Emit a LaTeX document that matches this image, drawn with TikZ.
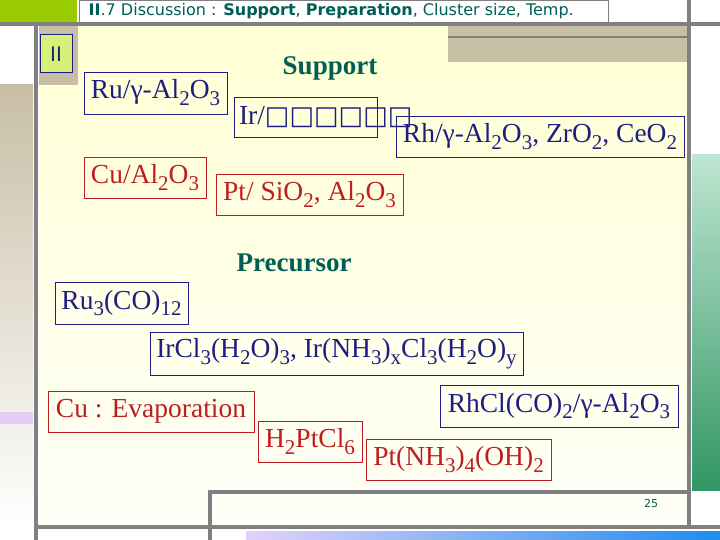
\documentclass[tikz,border=0pt]{standalone}
\usepackage{fontspec}
\setmainfont{Liberation Serif}
\newfontfamily\titlefont{DejaVu Sans}
\newfontfamily\symfont{DejaVu Sans}
\newcommand\sbt[1]{\raisebox{-0.25em}{\fontsize{21}{21}\selectfont #1}}
\definecolor{navy}{RGB}{30,30,130}
\definecolor{dred}{RGB}{190,30,30}
\definecolor{teal2}{RGB}{0,95,85}
\definecolor{frame}{RGB}{128,128,128}
\definecolor{tan}{RGB}{200,190,165}
\definecolor{lgreen}{RGB}{153,204,0}
\definecolor{bgtop}{RGB}{255,255,212}
\definecolor{bgbot}{RGB}{255,255,248}
\definecolor{lav}{RGB}{225,205,245}
\definecolor{gtop}{RGB}{190,230,210}
\definecolor{gbot}{RGB}{50,150,100}
\definecolor{blav}{RGB}{225,210,250}
\definecolor{bblue}{RGB}{30,140,240}
\definecolor{iifill}{RGB}{215,240,120}
\begin{document}
\begin{tikzpicture}[x=1pt,y=-1pt,
  bx/.style={draw=#1,text=#1,line width=0.8pt,inner sep=0pt,font=\fontsize{27.5}{27.5}\selectfont},
  hd/.style={text=teal2,font=\fontsize{27}{27}\selectfont\bfseries},
  fr/.style={frame,line width=4pt}]
\useasboundingbox (0,0) rectangle (720,540);
\fill[white] (0,0) rectangle (720,540);
% backgrounds
\shade[top color=bgtop, bottom color=bgbot] (39,25) rectangle (687,527);
\fill[lgreen] (0,0) rectangle (77,22);
\shade[top color=tan, bottom color=white] (0,85) rectangle (33,527);
\fill[lav] (0,412) rectangle (33,424);
\fill[tan] (39,25) rectangle (78,85);
\fill[tan] (448,25) rectangle (687,62);
\draw[frame,line width=2pt] (448,37) -- (687,37);
\shade[top color=gtop, bottom color=gbot] (692,155) rectangle (720,490);
\shade[left color=blav, right color=bblue] (246,531) rectangle (720,540);
% frame lines
\draw[fr] (0,24) -- (720,24);
\draw[fr] (36,24) -- (36,540);
\draw[fr] (689,0) -- (689,527);
\draw[fr] (36,527) -- (720,527);
\draw[fr] (210,540) -- (210,492) -- (689,492);
% title
\node[draw=frame,fill=white,line width=0.5pt,minimum width=529,minimum height=22,anchor=north west,inner sep=0pt,text=teal2] (title) at (79,0)
  {\titlefont\fontsize{16}{16}\selectfont\textbf{II}.7 Discussion : \textbf{Support}, \textbf{Preparation}, Cluster size, Temp.\hspace*{25pt}};
\node[draw=navy,line width=1pt,fill=iifill,minimum width=32,minimum height=38,inner sep=0pt,text=navy,font=\titlefont\fontsize{20}{20}\selectfont] (ii) at (56,54) {II};
% headings
\node[hd] (sup) at (330,68) {Support};
\node[hd] (pre) at (294,263) {Precursor};
% support boxes
\node[bx=navy,minimum width=143,minimum height=42] (ru) at (155.5,93) {Ru/γ-Al\sbt{2}O\sbt{3}};
\node[bx=navy,minimum width=143,minimum height=40,anchor=west,align=left] (ir) at (234,117) {\,Ir/{\symfont\fontsize{26}{26}\selectfont □□□□□□}\hspace*{-35pt}};
\node[bx=navy,minimum width=288,minimum height=41] (rh) at (540,136.5) {Rh/γ-Al\sbt{2}O\sbt{3}, ZrO\sbt{2}, CeO\sbt{2}};
\node[bx=dred,minimum width=122,minimum height=41] (cu) at (145,177.5) {Cu/Al\sbt{2}O\sbt{3}};
\node[bx=dred,minimum width=187,minimum height=41] (pt) at (309.5,194.5) {Pt/ SiO\sbt{2}, Al\sbt{2}O\sbt{3}};
% precursor boxes
\node[bx=navy,minimum width=133,minimum height=42] (ru3) at (121.5,303) {Ru\sbt{3}(CO)\sbt{12}};
\node[bx=navy,minimum width=373,minimum height=43] (ircl) at (336.5,353.5) {IrCl\sbt{3}(H\sbt{2}O)\sbt{3}, Ir(NH\sbt{3})\sbt{x}Cl\sbt{3}(H\sbt{2}O)\sbt{y}};
\node[bx=dred,minimum width=206,minimum height=41] (evap) at (151,411.5) {Cu : Evaporation};
\node[bx=navy,minimum width=238,minimum height=42] (rhcl) at (559,406) {RhCl(CO)\sbt{2}/γ-Al\sbt{2}O\sbt{3}};
\node[bx=dred,minimum width=104,minimum height=41] (h2pt) at (310,441.5) {H\sbt{2}PtCl\sbt{6}};
\node[bx=dred,minimum width=185,minimum height=41] (ptnh) at (458.5,459.5) {Pt(NH\sbt{3})\sbt{4}(OH)\sbt{2}};
\node[text=teal2,font=\titlefont\fontsize{11}{11}\selectfont] (pg) at (651,503) {25};
\end{tikzpicture}
\end{document}
